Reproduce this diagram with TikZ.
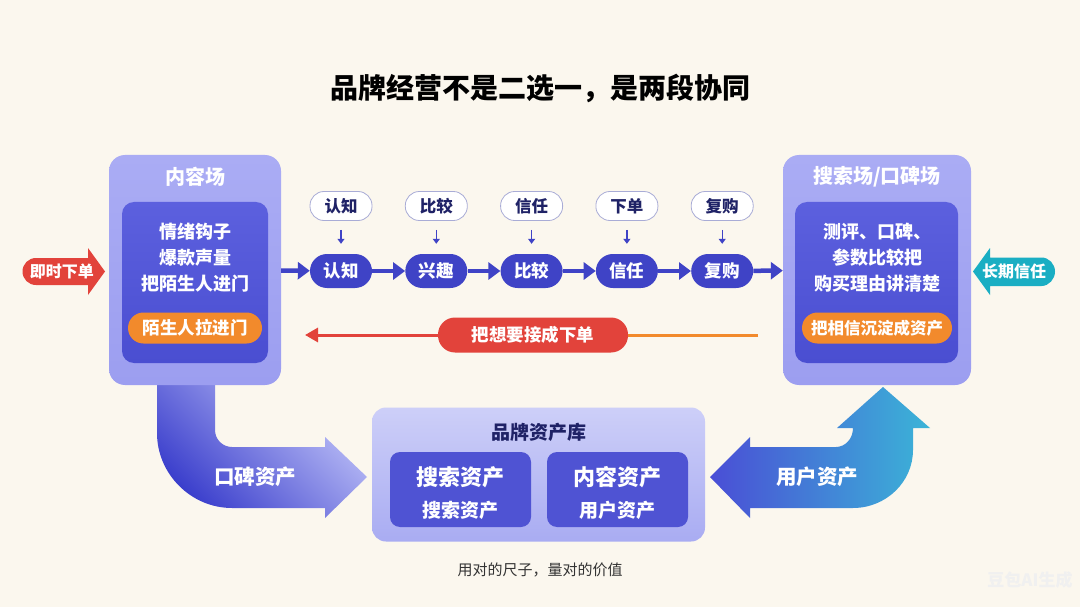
\documentclass[tikz,border=0pt]{standalone}
\usepackage{fontspec}
\setmainfont{Noto Sans CJK SC}
\usepackage{xcolor}
\usepackage{tikz}
\usetikzlibrary{shapes.geometric, arrows, arrows.meta, positioning, fit, shadings}
\definecolor{bgcream}{HTML}{FBF7EE}
\definecolor{panelhi}{HTML}{AAACF4}
\definecolor{panellow}{HTML}{9C9EF0}
\definecolor{innerhi}{HTML}{5C60DE}
\definecolor{innerlow}{HTML}{4A4ED1}
\definecolor{stageblue}{HTML}{3F43C6}
\definecolor{hintline}{HTML}{A9ACD6}
\definecolor{navy}{HTML}{1F2266}
\definecolor{tagorange}{HTML}{F28A2C}
\definecolor{alertred}{HTML}{E2433B}
\definecolor{trustteal}{HTML}{1AAEC3}
\definecolor{libhi}{HTML}{CDCFF8}
\definecolor{liblow}{HTML}{A9ACF2}
\definecolor{libitemc}{HTML}{4F53D3}
\definecolor{benddark}{HTML}{383CCB}
\definecolor{bendtip}{HTML}{C2C5F9}
\definecolor{usrleft}{HTML}{4A4ED6}
\definecolor{usrright}{HTML}{3BB4D7}
\tikzstyle{headline}   = [text=black, font=\fontsize{28}{32}\selectfont\bfseries]
\tikzstyle{panel}      = [rectangle, rounded corners=16pt, minimum width=172pt, minimum height=230pt, top color=panelhi, bottom color=panellow]
\tikzstyle{innerbox}   = [rectangle, rounded corners=12pt, minimum width=146pt, minimum height=161pt, top color=innerhi, bottom color=innerlow]
\tikzstyle{paneltitle} = [text=white, font=\fontsize{20}{24}\selectfont\bfseries]
\tikzstyle{paneltext}  = [text=white, font=\fontsize{18}{26}\selectfont\bfseries]
\tikzstyle{tagpill}    = [rectangle, rounded corners=15.5pt, minimum width=134pt, minimum height=31pt, fill=tagorange, text=white, font=\fontsize{17.5}{20}\selectfont\bfseries]
\tikzstyle{stage}      = [rectangle, rounded corners=17pt, minimum width=62pt, minimum height=34pt, fill=stageblue, text=white, font=\fontsize{17.5}{20}\selectfont\bfseries]
\tikzstyle{hint}       = [rectangle, rounded corners=14pt, minimum width=62pt, minimum height=29pt, fill=white, draw=hintline, line width=0.8pt, text=navy, font=\fontsize{16.5}{20}\selectfont\bfseries]
\tikzstyle{arrow}      = [line width=4.5pt, draw=stageblue, ->, >={Triangle[length=12pt,width=17pt]}]
\tikzstyle{thinarrow}  = [line width=1.4pt, draw=stageblue, ->, >={Triangle[length=5pt,width=7pt]}, shorten <=9pt, shorten >=10pt]
\tikzstyle{backline}   = [line width=3pt]
\tikzstyle{backpill}   = [rectangle, rounded corners=17pt, minimum width=190pt, minimum height=35pt, fill=alertred, text=white, font=\fontsize{17.5}{20}\selectfont\bfseries]
\tikzstyle{sidetext}   = [text=white, font=\fontsize{16}{20}\selectfont\bfseries]
\tikzstyle{bigtext}    = [text=white, font=\fontsize{20.5}{24}\selectfont\bfseries]
\tikzstyle{libbox}     = [rectangle, rounded corners=14pt, minimum width=333pt, minimum height=134pt, top color=libhi, bottom color=liblow]
\tikzstyle{libtitle}   = [text=navy, font=\fontsize{19}{22}\selectfont\bfseries]
\tikzstyle{libitem}    = [rectangle, rounded corners=10pt, minimum width=141pt, minimum height=75pt, fill=libitemc]
\tikzstyle{itembig}    = [text=white, font=\fontsize{22}{26}\selectfont\bfseries]
\tikzstyle{itemsmall}  = [text=white, font=\fontsize{19}{22}\selectfont\bfseries]
\tikzset{every node/.style={align=center}}

\begin{document}
\begin{tikzpicture}[x=1pt, y=-1pt, node distance=95.3pt]
    \useasboundingbox (0,0) rectangle (1080,607);
    \fill[bgcream] (0,0) rectangle (1080,607);

    \node (title) [headline] at (540,88) {品牌经营不是二选一，是两段协同};

    \shade[top color=bendtip, bottom color=benddark, shading angle=-45]
        (157,383) -- (157,433) .. controls (157,474) and (191,508) .. (232,508) -- (325,508) -- (325,518)
        -- (367,477) -- (325,437) -- (325,447) -- (232,447) .. controls (222.6,447) and (215,439.4) .. (215,430)
        -- (215,383) -- cycle;
    \shade[left color=usrleft, right color=usrright]
        (710,477) -- (750,437) -- (750,447) -- (836,447) .. controls (845,447) and (853,439) .. (853,428)
        -- (837,428) -- (883,387) -- (930,428) -- (913,428) -- (913,450) .. controls (913,482) and (886,508) .. (853,508)
        -- (750,508) -- (750,518) -- cycle;
    \node (wom) [bigtext] at (255,477) {口碑资产};
    \node (usr) [bigtext] at (817,477) {用户资产};

    \node (cs)      [panel]     at (195,270)   {};
    \node (cstitle) [paneltitle] at (195,177)  {内容场};
    \node (csin)    [innerbox]  at (195,282.5) {};
    \node (csbody)  [paneltext] at (195,258)   {情绪钩子\\爆款声量\\把陌生人进门};
    \node (cstag)   [tagpill]   at (195,328)   {陌生人拉进门};

    \node (ss)      [panel, minimum width=188pt]    at (877,270)   {};
    \node (sstitle) [paneltitle] at (877,177)       {搜索场/口碑场};
    \node (ssin)    [innerbox, minimum width=163pt] at (876.5,282.5) {};
    \node (ssbody)  [paneltext] at (877,258)        {测评、口碑、\\参数比较把\\购买理由讲清楚};
    \node (sstag)   [tagpill, minimum width=150pt, font=\fontsize{16.5}{20}\selectfont\bfseries] at (877,328) {把相信沉淀成资产};

    \node (st1) [stage] at (341,271)      {认知};
    \node (st2) [stage, right of=st1]     {兴趣};
    \node (st3) [stage, right of=st2]     {比较};
    \node (st4) [stage, right of=st3]     {信任};
    \node (st5) [stage, right of=st4]     {复购};
    \node (h1)  [hint] at (341,206)       {认知};
    \node (h2)  [hint, right of=h1]       {比较};
    \node (h3)  [hint, right of=h2]       {信任};
    \node (h4)  [hint, right of=h3]       {下单};
    \node (h5)  [hint, right of=h4]       {复购};

    \draw [arrow] (cs)  -- (st1);
    \draw [arrow] (st1) -- (st2);
    \draw [arrow] (st2) -- (st3);
    \draw [arrow] (st3) -- (st4);
    \draw [arrow] (st4) -- (st5);
    \draw [arrow] (st5) -- (ss);
    \foreach \i in {1,...,5}
        \draw [thinarrow] (h\i) -- (st\i);

    \node (bk) [backpill] at (533,335) {把想要接成下单};
    \coordinate (bkfrom) at (758,335);
    \coordinate (bkto)   at (305,335);
    \draw [backline, draw=tagorange] (bkfrom) -- (bk);
    \draw [backline, draw=alertred, -{Triangle[length=13pt,width=14pt]}] (bk) -- (bkto);

    \fill[alertred] (22.5,271.5) .. controls (22.5,264) and (28.5,258) .. (36,258) -- (88,258) -- (88,248)
        -- (105,271.5) -- (88,295) -- (88,285) -- (36,285) .. controls (28.5,285) and (22.5,279) .. (22.5,271.5) -- cycle;
    \node (now) [sidetext] at (62,271.5) {即时下单};
    \fill[trustteal] (1055,271.5) .. controls (1055,264) and (1049,257.5) .. (1041.5,257.5) -- (990,257.5) -- (990,248)
        -- (973,271.5) -- (990,295) -- (990,286) -- (1041.5,286) .. controls (1049,286) and (1055,279) .. (1055,271.5) -- cycle;
    \node (trust) [sidetext] at (1014,271.5) {长期信任};

    \node (lib)      [libbox]    at (538.5,474.5) {};
    \node (libtitle) [libtitle]  at (538.5,432)   {品牌资产库};
    \node (libl)     [libitem]   at (460.5,489.5) {};
    \node (libr)     [libitem]   at (617.5,489.5) {};
    \node (libl1)    [itembig]   at (460.5,477)   {搜索资产};
    \node (libl2)    [itemsmall] at (460.5,510)   {搜索资产};
    \node (libr1)    [itembig]   at (617.5,477)   {内容资产};
    \node (libr2)    [itemsmall] at (617.5,510)   {用户资产};

    \node (foot) [text=black!80, font=\fontsize{15}{18}\selectfont] at (540,570) {用对的尺子，量对的价值};
    \node (wm)   [text=black!6, font=\fontsize{17}{20}\selectfont\bfseries] at (1030,580) {豆包AI生成};
\end{tikzpicture}
\end{document}
